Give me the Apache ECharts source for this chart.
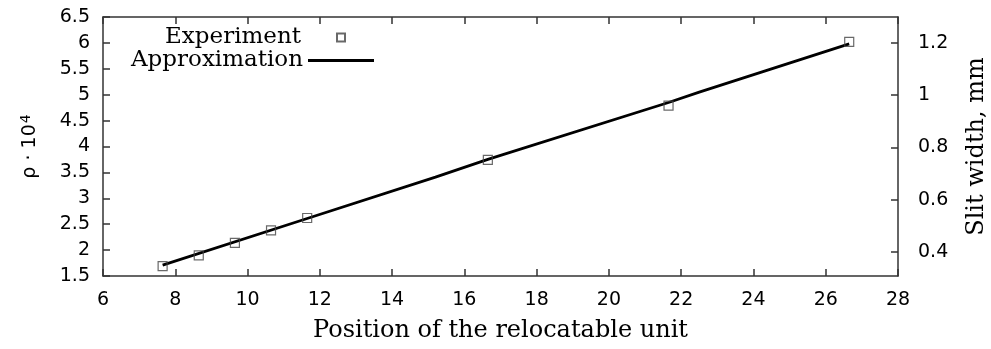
<!DOCTYPE html>
<html><head><meta charset="utf-8">
<script src="https://cdn.jsdelivr.net/npm/echarts@6/dist/echarts.min.js"></script>
<style>html,body{margin:0;padding:0;background:#fff}#c{width:991px;height:349px}</style>
</head><body><div id="c"></div>
<script>
const expX = [7.65, 8.65, 9.65, 10.65, 11.65, 16.65, 21.65, 26.65];
const expY = [1.69, 1.90, 2.14, 2.38, 2.62, 3.74, 4.79, 6.02];
const apprX = [7.65, 11.65, 15.2, 16.65, 21.65, 22.5, 26.65];
const apprY = [1.71, 2.61, 3.41, 3.75, 4.85, 5.05, 5.98];
const rightTicks = [0.4, 0.6, 0.8, 1, 1.2];

const serif = '"DejaVu Serif", serif';
const sans = '"DejaVu Sans", sans-serif';
const axisCol = '#333';
const serifSize = 23;
const tickSize = 19;

const chart = echarts.init(document.getElementById('c'));
chart.setOption({
  animation: false,
  backgroundColor: '#fff',
  grid: {left: 103, right: 93, top: 17, bottom: 73, containLabel: false, outerBoundsMode: 'none'},
  legend: [
    {data: [{name: 'Experiment', icon: 'rect'}], orient: 'vertical', align: 'right', right: 645, top: 26, padding: 0,
     itemWidth: 8, itemHeight: 8,
     textStyle: {fontFamily: serif, fontSize: serifSize, color: '#000', padding: [0, 31, 0, 0]}},
    {data: [{name: 'Approximation', icon: 'rect'}], orient: 'vertical', align: 'right', right: 617, top: 49, padding: 0,
     itemWidth: 66, itemHeight: 3,
     textStyle: {fontFamily: serif, fontSize: serifSize, color: '#000'}}
  ],
  xAxis: [
    {type: 'value', min: 6, max: 28, interval: 2, position: 'bottom',
     name: 'Position of the relocatable unit', nameLocation: 'middle', nameGap: 43,
     nameTextStyle: {fontFamily: serif, fontSize: 24, color: '#000'},
     axisLine: {lineStyle: {color: axisCol, width: 1.5}},
     axisTick: {inside: true, length: 7, lineStyle: {color: axisCol, width: 1.5}},
     axisLabel: {fontFamily: sans, fontSize: tickSize, color: '#000', margin: 15},
     splitLine: {show: false}},
    {type: 'value', min: 6, max: 28, interval: 2, position: 'top',
     axisLine: {lineStyle: {color: axisCol, width: 1.5}},
     axisTick: {inside: true, length: 7, lineStyle: {color: axisCol, width: 1.5}},
     axisLabel: {show: false}, splitLine: {show: false}}
  ],
  yAxis: [
    {type: 'value', min: 1.5, max: 6.5, interval: 0.5, position: 'left',
     name: '{a|ρ · 10}{s|4}', nameLocation: 'middle', nameGap: 62, nameRotate: 90,
     nameTextStyle: {rich: {a: {fontFamily: sans, fontSize: 19, color: '#000'},
                            s: {fontFamily: sans, fontSize: 14, color: '#000', verticalAlign: 'top', padding: [0,0,8,1]}}},
     axisLine: {show: true, lineStyle: {color: axisCol, width: 1.5}},
     axisTick: {show: true, inside: true, length: 7, lineStyle: {color: axisCol, width: 1.5}},
     axisLabel: {fontFamily: sans, fontSize: tickSize, color: '#000', margin: 13},
     splitLine: {show: false}},
    {type: 'value', min: 0.308, max: 1.299, position: 'right',
     name: 'Slit width, mm', nameLocation: 'middle', nameGap: 67, nameRotate: 90,
     nameTextStyle: {fontFamily: serif, fontSize: 24, color: '#000'},
     axisLine: {show: true, lineStyle: {color: axisCol, width: 1.5}},
     axisTick: {show: true, inside: true, length: 7, customValues: rightTicks, lineStyle: {color: axisCol, width: 1.5}},
     axisLabel: {fontFamily: sans, fontSize: tickSize, color: '#000', margin: 20, customValues: rightTicks},
     splitLine: {show: false}}
  ],
  series: [
    {name: 'Experiment', type: 'scatter', symbol: 'rect', symbolSize: 9,
     itemStyle: {color: 'rgba(255,255,255,0)', borderColor: '#444', borderWidth: 1.2},
     data: expX.map((x, i) => [x, expY[i]]), z: 3},
    {name: 'Approximation', type: 'line', showSymbol: false, symbol: 'none',
     lineStyle: {color: '#000', width: 2.8}, itemStyle: {color: '#000'},
     data: apprX.map((x, i) => [x, apprY[i]]), z: 2}
  ]
});
</script></body></html>
